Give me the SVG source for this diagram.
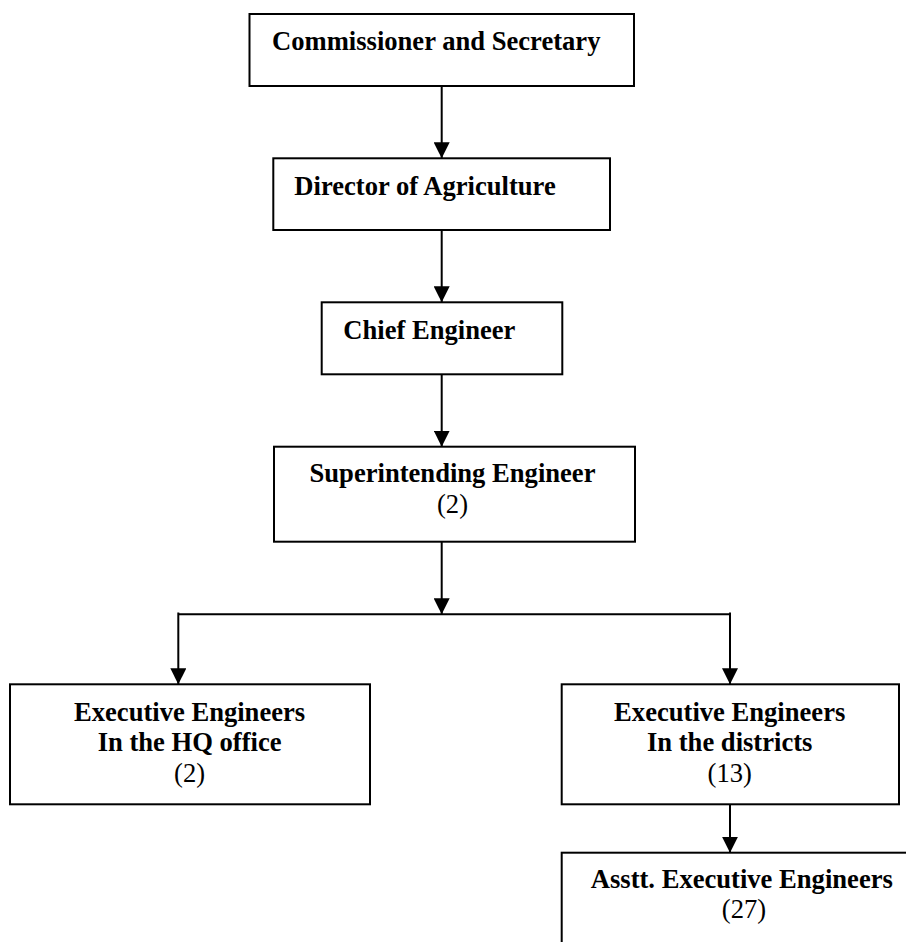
<svg xmlns="http://www.w3.org/2000/svg" width="906" height="942" viewBox="0 0 906 942">
<style>
.box{fill:#fff;stroke:#000;stroke-width:2}
.b{font-family:"Liberation Serif","Times New Roman",serif;font-weight:bold;font-size:26.6px;fill:#000}
.r{font-family:"Liberation Serif","Times New Roman",serif;font-size:26.6px;fill:#000}
.c{text-anchor:middle}
.ln{fill:none;stroke:#000;stroke-width:2}
</style>
<defs>
<marker id="ah" viewBox="0 0 16 16" refX="16" refY="8" markerWidth="16" markerHeight="16" markerUnits="userSpaceOnUse" orient="auto">
<path d="M0,0 L16,8 L0,16 z" fill="#000"/>
</marker>
</defs>
<rect width="906" height="942" fill="#fff"/>
<g id="connectors">
<path class="ln" d="M441.7,86 V158.3" marker-end="url(#ah)"/>
<path class="ln" d="M441.7,230 V302.3" marker-end="url(#ah)"/>
<path class="ln" d="M441.7,374.3 V446.7" marker-end="url(#ah)"/>
<path class="ln" d="M441.7,541.7 V614.3" marker-end="url(#ah)"/>
<path class="ln" d="M178.3,614.3 H730"/>
<path class="ln" d="M178.3,612.5 V684.3" marker-end="url(#ah)"/>
<path class="ln" d="M730,612.5 V684.3" marker-end="url(#ah)"/>
<path class="ln" d="M730,804.3 V852.7" marker-end="url(#ah)"/>
</g>
<g id="commissioner">
<rect class="box" x="249.5" y="14" width="384.5" height="72"/>
<text class="b" x="272" y="50">Commissioner and Secretary</text>
</g>
<g id="director">
<rect class="box" x="273.3" y="158.3" width="336.7" height="71.7"/>
<text class="b" x="294.3" y="195">Director of Agriculture</text>
</g>
<g id="chief">
<rect class="box" x="321.7" y="302.3" width="240.6" height="72"/>
<text class="b" x="343.3" y="339.3">Chief Engineer</text>
</g>
<g id="superintending">
<rect class="box" x="274" y="446.7" width="361" height="95"/>
<text class="b c" x="452.5" y="481.7">Superintending Engineer</text>
<text class="r c" x="452.5" y="513.3">(2)</text>
</g>
<g id="ee-hq">
<rect class="box" x="10" y="684.3" width="360" height="120"/>
<text class="b c" x="189.6" y="721">Executive Engineers</text>
<text class="b c" x="189.6" y="751">In the HQ office</text>
<text class="r c" x="189.6" y="782">(2)</text>
</g>
<g id="ee-districts">
<rect class="box" x="561.7" y="684.3" width="337.3" height="120"/>
<text class="b c" x="729.7" y="721">Executive Engineers</text>
<text class="b c" x="729.7" y="750.7">In the districts</text>
<text class="r c" x="729.7" y="781.7">(13)</text>
</g>
<g id="asstt">
<rect class="box" x="561.7" y="852.7" width="360" height="110"/>
<text class="b c" x="741.8" y="887.7">Asstt. Executive Engineers</text>
<text class="r c" x="744" y="918.3">(27)</text>
</g>
</svg>
